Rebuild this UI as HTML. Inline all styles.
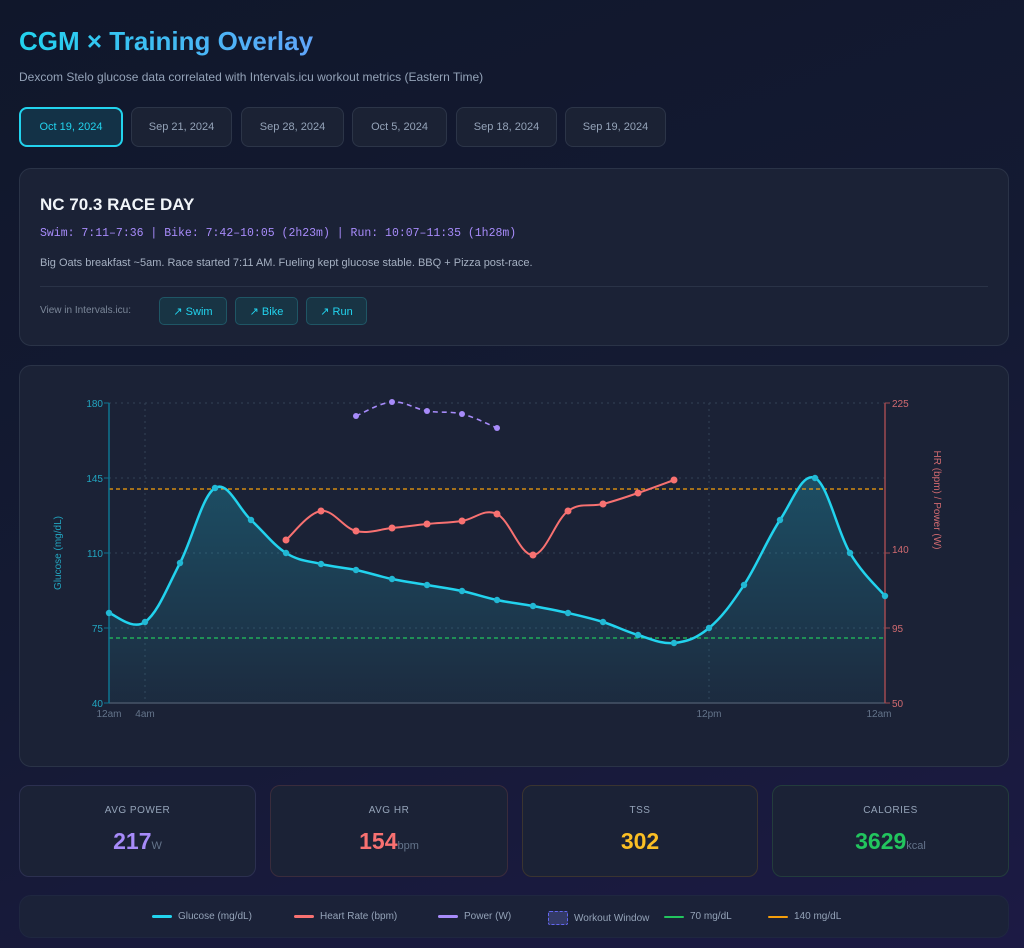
<!DOCTYPE html>
<html><head><meta charset="utf-8"><style>
*{box-sizing:border-box;margin:0;padding:0}
body{width:1024px;height:948px;overflow:hidden;font-family:"Liberation Sans",sans-serif;background:linear-gradient(160deg,#10172b 0%,#141a33 50%,#1c1a44 100%);color:#e2e8f0;position:relative}
.abs{position:absolute}
h1{position:absolute;left:19px;top:26px;font-size:26px;font-weight:bold;background:linear-gradient(90deg,#22d3ee,#60a5fa);-webkit-background-clip:text;color:transparent}
.sub{left:19px;top:70px;font-size:12px;color:#94a3b8}
.tab{position:absolute;top:107px;height:40px;border:1px solid #2c3548;border-radius:8px;background:#1b2234;color:#94a3b8;font-size:11px;display:flex;align-items:center;justify-content:center}
.tab.on{border:2px solid #22d3ee;background:#133247;color:#22d3ee}
.card{position:absolute;background:#1b2236;border:1px solid #2a3347;border-radius:12px}
.btn{position:absolute;top:297px;height:28px;border:1px solid #1f5665;border-radius:5px;background:#183444;color:#22d3ee;font-size:11px;display:flex;align-items:center;justify-content:center;gap:5px}
.stat{position:absolute;top:785px;height:92px;background:#1b2236;border-radius:10px;text-align:center}
.stat .l{margin-top:19px;font-size:10px;color:#94a3b8;letter-spacing:.5px}
.stat .v{margin-top:12px;font-size:23px;font-weight:bold}
.stat .v small{font-size:11px;font-weight:normal;color:#64748b}
.lg{position:absolute;top:911px;font-size:10px;color:#94a3b8;display:flex;align-items:center;gap:6px}
.lg i{display:inline-block;width:20px;height:3px;border-radius:2px}
</style></head><body>
<h1>CGM × Training Overlay</h1>
<div class="abs sub">Dexcom Stelo glucose data correlated with Intervals.icu workout metrics (Eastern Time)</div>
<div class="tab on" style="left:19px;width:104px">Oct 19, 2024</div>
<div class="tab" style="left:131px;width:101px">Sep 21, 2024</div>
<div class="tab" style="left:241px;width:103px">Sep 28, 2024</div>
<div class="tab" style="left:352px;width:95px">Oct 5, 2024</div>
<div class="tab" style="left:456px;width:101px">Sep 18, 2024</div>
<div class="tab" style="left:565px;width:101px">Sep 19, 2024</div>

<div class="card" style="left:19px;top:168px;width:990px;height:178px"></div>
<div class="abs" style="left:40px;top:195px;font-size:17px;font-weight:bold;color:#f1f5f9">NC 70.3 RACE DAY</div>
<div class="abs" style="left:40px;top:227px;font-size:11.5px;font-family:'Liberation Mono',monospace;color:#a78bfa">Swim: 7:11–7:36 | Bike: 7:42–10:05 (2h23m) | Run: 10:07–11:35 (1h28m)</div>
<div class="abs" style="left:40px;top:257px;font-size:11px;color:#a5b0c2">Big Oats breakfast ~5am. Race started 7:11 AM. Fueling kept glucose stable. BBQ + Pizza post-race.</div>
<div class="abs" style="left:40px;top:286px;width:948px;height:1px;background:#2a3347"></div>
<div class="abs" style="left:40px;top:305px;font-size:10px;color:#7b8799">View in Intervals.icu:</div>
<div class="btn" style="left:159px;width:68px">↗ Swim</div>
<div class="btn" style="left:235px;width:63px">↗ Bike</div>
<div class="btn" style="left:306px;width:61px">↗ Run</div>

<div class="card" style="left:19px;top:365px;width:990px;height:402px"></div>
<svg class="abs" style="left:0;top:0" width="1024" height="948" font-family="Liberation Sans, sans-serif">
<defs><linearGradient id="gf" x1="0" y1="0" x2="0" y2="1"><stop offset="0" stop-color="#22d3ee" stop-opacity=".25"/><stop offset="1" stop-color="#22d3ee" stop-opacity=".05"/></linearGradient></defs>
<g stroke="#334155" stroke-dasharray="2,4" stroke-width="1">
<line x1="109" x2="885" y1="403" y2="403"/><line x1="109" x2="885" y1="478" y2="478"/><line x1="109" x2="885" y1="553" y2="553"/><line x1="109" x2="885" y1="628" y2="628"/>
<line x1="145" x2="145" y1="403" y2="703"/><line x1="709" x2="709" y1="403" y2="703"/>
</g>
<path id="gfill" fill="url(#gf)"/>
<line x1="109" x2="885" y1="489" y2="489" stroke="#f59e0b" stroke-dasharray="4,3" stroke-width="1.3"/>
<line x1="109" x2="885" y1="638" y2="638" stroke="#22c55e" stroke-dasharray="4,3" stroke-width="1.3"/>
<line x1="109" x2="885" y1="703" y2="703" stroke="#475569" stroke-width="1.5"/>
<line x1="109" x2="109" y1="403" y2="703" stroke="#0e7490" stroke-width="1.5"/>
<line x1="885" x2="885" y1="403" y2="703" stroke="#9f4a50" stroke-width="1.5"/>
<g font-size="10" fill="#22a5c0" text-anchor="end">
<text x="103" y="407">180</text><text x="103" y="482">145</text><text x="103" y="557">110</text><text x="103" y="632">75</text><text x="103" y="707">40</text></g>
<g stroke="#0e7490"><line x1="104" x2="109" y1="403" y2="403"/><line x1="104" x2="109" y1="478" y2="478"/><line x1="104" x2="109" y1="553" y2="553"/><line x1="104" x2="109" y1="628" y2="628"/><line x1="104" x2="109" y1="703" y2="703"/></g>
<g font-size="10" fill="#d06a70"><text x="892" y="407">225</text><text x="892" y="553">140</text><text x="892" y="632">95</text><text x="892" y="707">50</text></g>
<g stroke="#9f4a50"><line x1="885" x2="890" y1="403" y2="403"/><line x1="885" x2="890" y1="553" y2="553"/><line x1="885" x2="890" y1="628" y2="628"/><line x1="885" x2="890" y1="703" y2="703"/></g>
<g font-size="10" fill="#64748b" text-anchor="middle"><text x="109" y="717">12am</text><text x="145" y="717">4am</text><text x="709" y="717">12pm</text><text x="879" y="717">12am</text></g>
<text transform="translate(61,553) rotate(-90)" font-size="10" fill="#22a5c0" text-anchor="middle">Glucose (mg/dL)</text>
<text transform="translate(934,500) rotate(90)" font-size="10" fill="#d06a70" text-anchor="middle">HR (bpm) / Power (W)</text>
<path id="gline" fill="none" stroke="#22d3ee" stroke-width="2.5"/>
<path id="hline" fill="none" stroke="#f87171" stroke-width="2"/>
<path id="pline" fill="none" stroke="#a78bfa" stroke-width="1.6" stroke-dasharray="5,4"/>
<g id="dots"></g>
</svg>

<div class="stat" style="left:19px;width:237px;border:1px solid #2c3050"><div class="l">AVG POWER</div><div class="v" style="color:#a78bfa">217<small>W</small></div></div>
<div class="stat" style="left:270px;width:238px;border:1px solid #3a2c3c"><div class="l">AVG HR</div><div class="v" style="color:#f87171">154<small>bpm</small></div></div>
<div class="stat" style="left:522px;width:236px;border:1px solid #3a3430"><div class="l">TSS</div><div class="v" style="color:#fbbf24">302</div></div>
<div class="stat" style="left:772px;width:237px;border:1px solid #233c3c"><div class="l">CALORIES</div><div class="v" style="color:#22c55e">3629<small>kcal</small></div></div>

<div class="card" style="left:19px;top:895px;width:990px;height:43px;border-color:#1f2740;background:#1b2238"></div>
<div class="lg" style="left:152px"><i style="background:#22d3ee"></i>Glucose (mg/dL)</div>
<div class="lg" style="left:294px"><i style="background:#f87171"></i>Heart Rate (bpm)</div>
<div class="lg" style="left:438px"><i style="background:#a78bfa"></i>Power (W)</div>
<div class="lg" style="left:548px"><i style="width:20px;height:14px;background:#333a66;border:1px dashed #6366f1;border-radius:2px"></i>Workout Window</div>
<div class="lg" style="left:664px"><i style="background:#22c55e;height:2px"></i>70 mg/dL</div>
<div class="lg" style="left:768px"><i style="background:#f59e0b;height:2px"></i>140 mg/dL</div>

<script>
function sp(p){var d="M"+p[0][0]+","+p[0][1];for(var i=0;i<p.length-1;i++){var a=p[i-1]||p[i],b=p[i],c=p[i+1],e=p[i+2]||c,t=0.18;
d+=" C"+(b[0]+(c[0]-a[0])*t)+","+(b[1]+(c[1]-a[1])*t)+" "+(c[0]-(e[0]-b[0])*t)+","+(c[1]-(e[1]-b[1])*t)+" "+c[0]+","+c[1];}return d;}
var gx=[109,145,180,215,251,286,321,356,392,427,462,497,533,568,603,638,674,709,744,780,815,850,885];
var gy=[613,622,563,488,520,553,564,570,579,585,591,600,606,613,622,635,643,628,585,520,478,553,596];
var g=gx.map(function(x,i){return[x,gy[i]]});
var h=[[286,540],[321,511],[356,531],[392,528],[427,524],[462,521],[497,514],[533,555],[568,511],[603,504],[638,493],[674,480]];
var p=[[356,416],[392,402],[427,411],[462,414],[497,428]];
var gd=sp(g);document.getElementById("gline").setAttribute("d",gd);
document.getElementById("gfill").setAttribute("d",gd+" L885,703 L109,703 Z");
document.getElementById("hline").setAttribute("d",sp(h));
document.getElementById("pline").setAttribute("d",sp(p));
var s="";g.forEach(function(q){s+='<circle cx="'+q[0]+'" cy="'+q[1]+'" r="3.2" fill="#22b8d4"/>'});
h.forEach(function(q){s+='<circle cx="'+q[0]+'" cy="'+q[1]+'" r="3.5" fill="#f87171"/>'});
p.forEach(function(q){s+='<circle cx="'+q[0]+'" cy="'+q[1]+'" r="3" fill="#a78bfa"/>'});
document.getElementById("dots").innerHTML=s;
</script>
</body></html>
